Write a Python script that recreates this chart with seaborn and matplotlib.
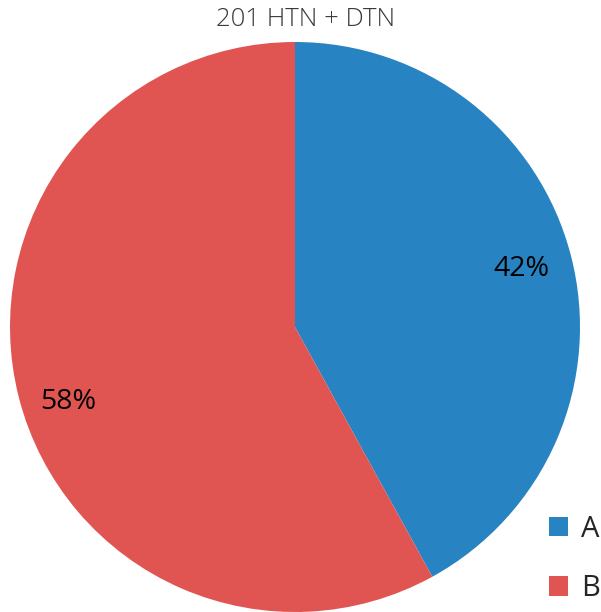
import matplotlib
matplotlib.use("Agg")
import seaborn as sns
import matplotlib.pyplot as plt
from matplotlib.patches import Patch

labels = ["A", "B"]
shares = [42, 58]
colors = sns.color_palette(["#2783c2", "#e05552"])
title = "201 HTN + DTN"

sns.set_theme(style="white")
plt.rcParams["font.family"] = ["Open Sans", "DejaVu Sans"]

fig = plt.figure(figsize=(6.01, 6.12), dpi=100)
ax = fig.add_axes([10 / 601, 0, 570 / 601, 570 / 612])
wedges, texts, autotexts = ax.pie(shares, colors=colors, startangle=90, counterclock=False,
                                  autopct="%1.0f%%", pctdistance=0.82,
                                  wedgeprops=dict(linewidth=0),
                                  textprops=dict(fontsize=20.5, color="black"))
ax.set_aspect("equal")
ax.set_xlim(-1, 1)
ax.set_ylim(-1, 1)
# nudge the B label a little lower, as in the source
x, y = autotexts[1].get_position()
autotexts[1].set_position((x, y - 0.06))

fig.text(306 / 601, 1 - 20 / 612, title, ha="center", va="center", fontsize=18.5,
         color="#3a3a3a", fontweight="light")

handles = [Patch(facecolor=c, edgecolor="none") for c in colors]
fig.legend(handles, labels, loc="lower right", bbox_to_anchor=(1.032, -0.019), frameon=False,
           fontsize=21, handlelength=0.65, handleheight=0.65, labelspacing=1.05,
           handletextpad=0.45, borderaxespad=0.3)

fig.savefig("out.png", dpi=100)
